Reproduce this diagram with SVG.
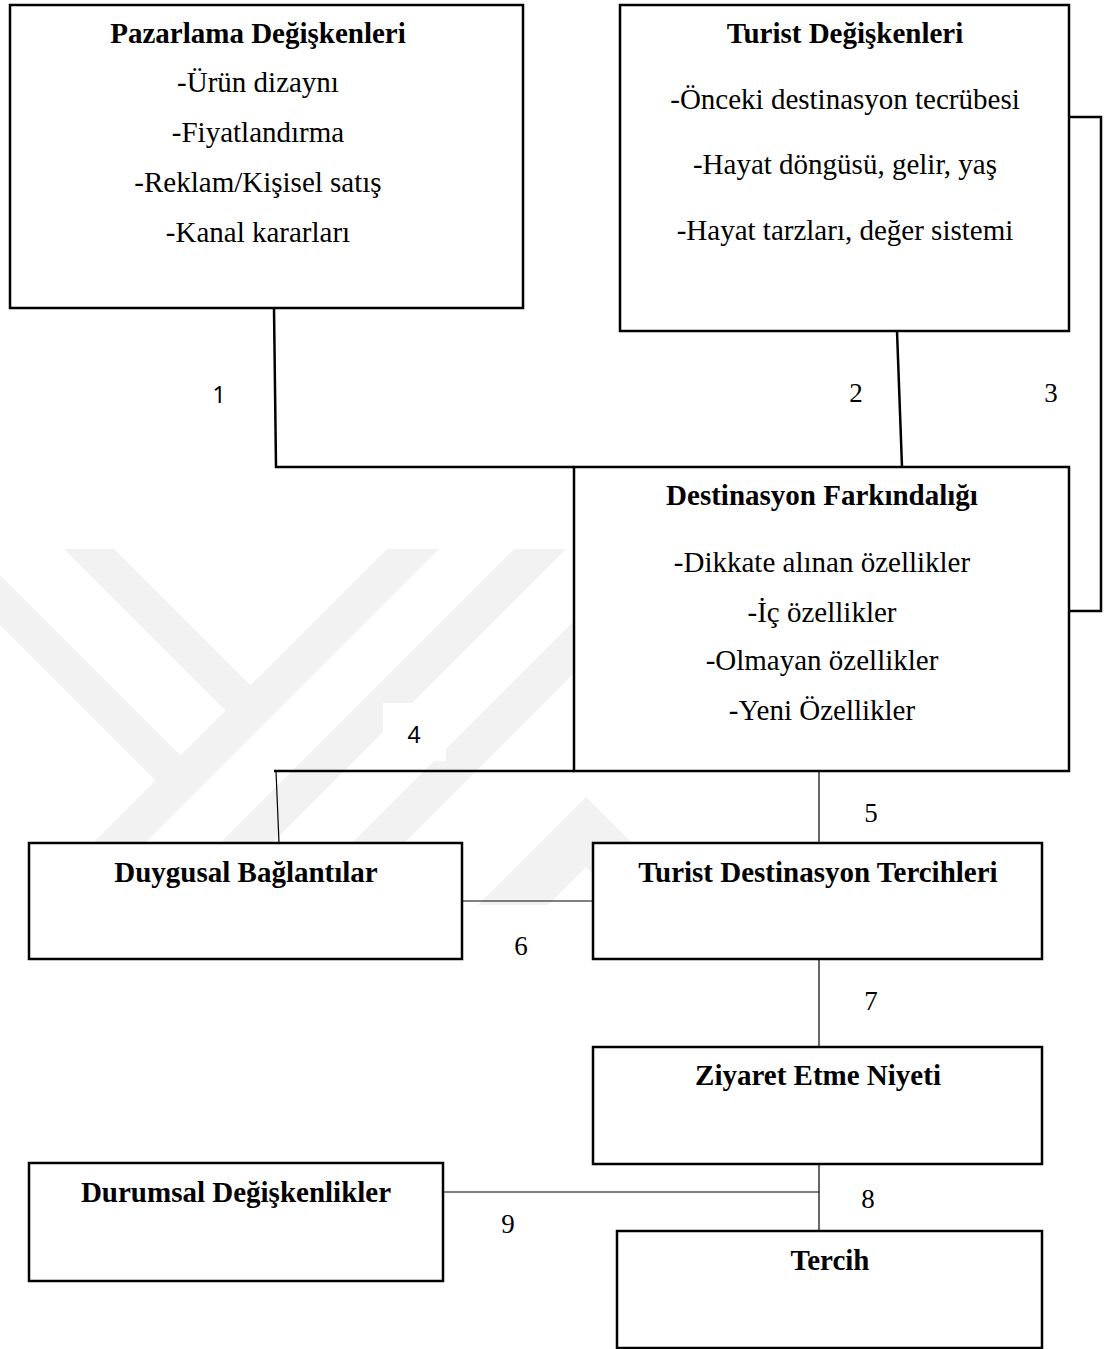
<svg xmlns="http://www.w3.org/2000/svg" width="1106" height="1349" viewBox="0 0 1106 1349">
<style>
.box{fill:#fff;stroke:#000;stroke-width:2.5}
.t{font-family:"Liberation Serif","Times New Roman",serif;font-size:29px;fill:#000;text-anchor:middle}
.b{font-weight:bold}
.num{font-family:"Liberation Serif","Times New Roman",serif;font-size:27px;fill:#000;text-anchor:middle}
.nums{font-family:"Noto Sans","Open Sans",sans-serif;font-size:23px;fill:#000;text-anchor:middle}
.thick{fill:none;stroke:#000;stroke-width:2.5}
.thin{fill:none;stroke:#000;stroke-width:1.2}
.wm{fill:#f2f2f2}
</style>
<defs>
<clipPath id="wmclip"><rect x="0" y="540" width="1106" height="365"/></clipPath>
</defs>
<rect x="0" y="0" width="1106" height="1349" fill="#fff"/>
<g id="watermark" clip-path="url(#wmclip)">
<polygon class="wm" points="387,549 439,549 0,988 0,936"/>
<polygon class="wm" points="64,549 114,549 251,686 226,711"/>
<polygon class="wm" points="0,575 181,756 156,781 0,625"/>
<polygon class="wm" points="514,549 566,549 0,1115 0,1063"/>
<polygon class="wm" points="595,600 647,600 0,1247 0,1195"/>
<polygon class="wm" points="423,960 586,797 749,960 679,960 586,867 493,960"/>
</g>
<rect x="383" y="703" width="63" height="58" fill="#fff"/>
<g id="connectors">
<polyline class="thick" points="274,308 276,467 574,467"/>
<line class="thick" x1="897" y1="331" x2="902" y2="467"/>
<polyline class="thick" points="1069,117 1101,117 1101,611 1069,611"/>
<line class="thick" x1="274" y1="771" x2="574" y2="771"/>
<line class="thin" x1="276" y1="771" x2="279" y2="843"/>
<line class="thin" x1="819" y1="771" x2="819" y2="843"/>
<line class="thin" x1="462" y1="901" x2="593" y2="901"/>
<line class="thin" x1="819" y1="959" x2="819" y2="1047"/>
<line class="thin" x1="819" y1="1164" x2="819" y2="1231"/>
<line class="thin" x1="443" y1="1192" x2="819" y2="1192"/>
<text class="nums" x="219" y="403">1</text>
<text class="num" x="856" y="402">2</text>
<text class="num" x="1051" y="402">3</text>
<text class="nums" x="414" y="743">4</text>
<text class="num" x="871" y="822">5</text>
<text class="num" x="521" y="955">6</text>
<text class="num" x="871" y="1010">7</text>
<text class="num" x="868" y="1208">8</text>
<text class="num" x="508" y="1233">9</text>
</g>
<g id="pazarlama">
<rect class="box" x="10" y="5" width="513" height="303"/>
<text class="t b" x="258" y="43">Pazarlama Değişkenleri</text>
<text class="t" x="258" y="92">-Ürün dizaynı</text>
<text class="t" x="258" y="142">-Fiyatlandırma</text>
<text class="t" x="258" y="192">-Reklam/Kişisel satış</text>
<text class="t" x="258" y="242">-Kanal kararları</text>
</g>
<g id="turist">
<rect class="box" x="620" y="5" width="449" height="326"/>
<text class="t b" x="845" y="43">Turist Değişkenleri</text>
<text class="t" x="845" y="109">-Önceki destinasyon tecrübesi</text>
<text class="t" x="845" y="174">-Hayat döngüsü, gelir, yaş</text>
<text class="t" x="845" y="240">-Hayat tarzları, değer sistemi</text>
</g>
<g id="farkindalik">
<rect class="box" x="574" y="467" width="495" height="304"/>
<text class="t b" x="822" y="505">Destinasyon Farkındalığı</text>
<text class="t" x="822" y="572">-Dikkate alınan özellikler</text>
<text class="t" x="822" y="622">-İç özellikler</text>
<text class="t" x="822" y="670">-Olmayan özellikler</text>
<text class="t" x="822" y="720">-Yeni Özellikler</text>
</g>
<g id="duygusal">
<rect class="box" x="29" y="843" width="433" height="116"/>
<text class="t b" x="246" y="882">Duygusal Bağlantılar</text>
</g>
<g id="tercihler">
<rect class="box" x="593" y="843" width="449" height="116"/>
<text class="t b" x="818" y="882">Turist Destinasyon Tercihleri</text>
</g>
<g id="ziyaret">
<rect class="box" x="593" y="1047" width="449" height="117"/>
<text class="t b" x="818" y="1085">Ziyaret Etme Niyeti</text>
</g>
<g id="durumsal">
<rect class="box" x="29" y="1163" width="414" height="118"/>
<text class="t b" x="236" y="1202">Durumsal Değişkenlikler</text>
</g>
<g id="tercih">
<rect class="box" x="617" y="1231" width="425" height="117"/>
<text class="t b" x="830" y="1270">Tercih</text>
</g>
</svg>
